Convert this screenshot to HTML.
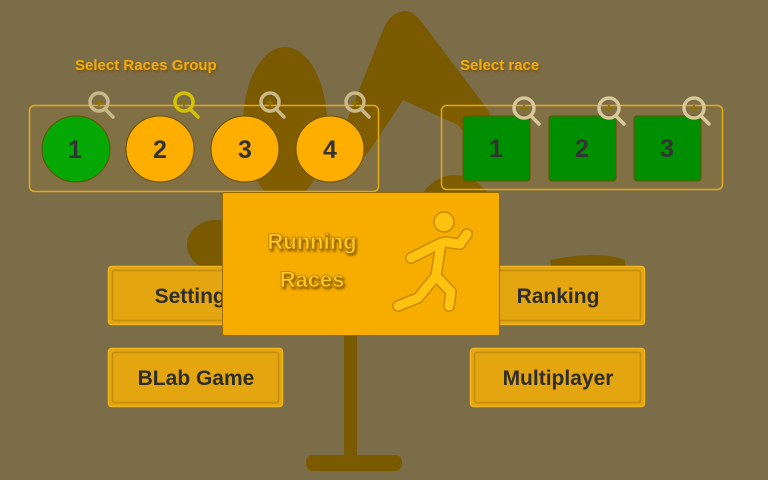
<!DOCTYPE html>
<html><head><meta charset="utf-8"><style>
html,body{margin:0;padding:0}
body{width:768px;height:480px;overflow:hidden;background:#7c6d49;position:relative;font-family:"Liberation Sans",sans-serif}
svg{position:absolute;left:0;top:0}
.t{font-family:"Liberation Sans",sans-serif;font-weight:bold}
</style></head><body>
<svg width="768" height="480" viewBox="0 0 768 480">
<defs><filter id="sh" x="-20%" y="-20%" width="140%" height="140%"><feDropShadow dx="1.5" dy="2" stdDeviation="1" flood-color="#7a4e00" flood-opacity="0.8"/></filter></defs>
<g fill="#7a5a00" stroke="none">
<ellipse cx="285" cy="124" rx="42" ry="77"/>
<path d="M400 12 Q410 8 420 20 L488 110 Q495 125 485 135 Q470 142 458 125 L403 100 L370 150 Q355 170 345 155 Q335 140 345 125 L385 25 Q392 14 400 12Z"/>
<ellipse cx="455" cy="220" rx="40" ry="45"/>
<ellipse cx="215" cy="245" rx="28" ry="25"/>
<path d="M550 260 Q600 250 625 260 L630 320 L560 320Z"/>
<rect x="344" y="336" width="13" height="124"/>
<rect x="306" y="455" width="96" height="16" rx="7"/>
</g>
<rect x="29.5" y="105.5" width="349" height="86" rx="5" fill="rgba(255,180,0,0.05)" stroke="#e3a816" stroke-width="1.5"/>
<rect x="441.5" y="105.5" width="281" height="84" rx="5" fill="rgba(255,180,0,0.05)" stroke="#e3a816" stroke-width="1.5"/>
<g stroke="#6a5000" stroke-width="1">
<ellipse cx="76" cy="149" rx="34" ry="33" fill="#05a805"/>
<ellipse cx="160" cy="149" rx="34" ry="33" fill="#fdae00"/>
<ellipse cx="245" cy="149" rx="34" ry="33" fill="#fdae00"/>
<ellipse cx="330" cy="149" rx="34" ry="33" fill="#fdae00"/>
<rect x="463" y="116" width="67" height="65" rx="3" fill="#008f00"/>
<rect x="549" y="116" width="67" height="65" rx="3" fill="#008f00"/>
<rect x="634" y="116" width="67" height="65" rx="3" fill="#008f00"/>
</g>
<g class="t" font-size="25" fill="#333" text-anchor="middle">
<text x="75" y="158">1</text><text x="160" y="158">2</text><text x="245" y="158">3</text><text x="330" y="158">4</text>
<text x="496" y="157">1</text><text x="582" y="157">2</text><text x="667" y="157">3</text>
</g>
<g fill="none" stroke-width="3.5" stroke-linecap="round">
<g stroke="#c9b98a"><circle cx="99" cy="102" r="9"/><line x1="105" y1="109" x2="113" y2="117"/></g>
<g stroke="#d2c200"><circle cx="184" cy="102" r="9"/><line x1="190" y1="109" x2="198" y2="117"/></g>
<g stroke="#c9b98a"><circle cx="270" cy="102" r="9"/><line x1="276" y1="109" x2="284" y2="117"/></g>
<g stroke="#c9b98a"><circle cx="355" cy="102" r="9"/><line x1="361" y1="109" x2="369" y2="117"/></g>
<g stroke="#d8c79a"><circle cx="524" cy="108" r="10"/><line x1="531" y1="116" x2="539" y2="124"/></g>
<g stroke="#d8c79a"><circle cx="609" cy="108" r="10"/><line x1="616" y1="116" x2="624" y2="124"/></g>
<g stroke="#d8c79a"><circle cx="694" cy="108" r="10"/><line x1="701" y1="116" x2="709" y2="124"/></g>
</g>
<g class="t" font-size="14" fill="#8a7400" text-anchor="middle">
<text x="99" y="107">+</text><text x="184" y="107">+</text><text x="270" y="107">+</text><text x="355" y="107">+</text>
<text x="524" y="113">+</text><text x="609" y="113">+</text><text x="694" y="113">+</text>
</g>
<g class="t" font-size="15" fill="#f0ac10" filter="url(#sh)">
<text x="75" y="70">Select Races Group</text>
<text x="460" y="70">Select race</text>
</g>
<g fill="#e3a510" stroke="#f0b420" stroke-width="1.5">
<rect x="108.5" y="266.5" width="174" height="58" rx="3"/>
<rect x="108.5" y="348.5" width="174" height="58" rx="3"/>
<rect x="470.5" y="266.5" width="174" height="58" rx="3"/>
<rect x="470.5" y="348.5" width="174" height="58" rx="3"/>
</g>
<g fill="none" stroke="#c48e0a" stroke-width="1.5">
<rect x="112.5" y="270.5" width="166" height="50" rx="2"/>
<rect x="112.5" y="352.5" width="166" height="50" rx="2"/>
<rect x="474.5" y="270.5" width="166" height="50" rx="2"/>
<rect x="474.5" y="352.5" width="166" height="50" rx="2"/>
</g>
<g class="t" font-size="21" fill="#2e2e2e" text-anchor="middle">
<text x="196" y="303">Settings</text>
<text x="196" y="385">BLab Game</text>
<text x="558" y="303">Ranking</text>
<text x="558" y="385">Multiplayer</text>
</g>
<rect x="222.5" y="192.5" width="277" height="143" rx="2" fill="#f6ad00" stroke="#9a6c00" stroke-width="1"/>
<g class="t" font-size="22" fill="#ffc928" stroke="#b87e00" stroke-width="0.8" text-anchor="middle" filter="url(#sh)">
<text x="312" y="249">Running</text>
<text x="312" y="287">Races</text>
</g>
<g fill="none" stroke="#c98a00" stroke-width="12" stroke-linecap="round" stroke-linejoin="round">
<path d="M441 243 L436 276 M439 244 L415 256 L411 258 M445 242 L460 244 L467 234 M436 276 L418 298 L398 306 M436 276 L451 292 L449 306"/>
</g>
<g fill="none" stroke="#ffc20e" stroke-width="9" stroke-linecap="round" stroke-linejoin="round">
<path d="M441 243 L436 276 M439 244 L415 256 L411 258 M445 242 L460 244 L467 234 M436 276 L418 298 L398 306 M436 276 L451 292 L449 306"/>
</g>
<circle cx="444" cy="222" r="10" fill="#ffc20e" stroke="#c98a00" stroke-width="1.5"/>
</svg>
</body></html>
